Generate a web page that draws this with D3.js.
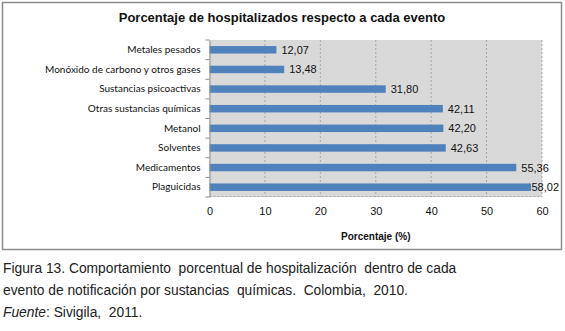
<!DOCTYPE html>
<html lang="es">
<head>
<meta charset="UTF-8">
<title>Porcentaje de hospitalizados</title>
<script src="https://d3js.org/d3.v7.min.js"></script>
<style>
    body { margin: 0; background: #fff; }
    .caption { font-family: "Liberation Sans", Arial, sans-serif; font-size: 13.8px; fill: #222; }
</style>
</head>
<body>
<svg id="chart" width="565" height="331"></svg>
<script>
    // data
    const categories = ["Metales pesados", "Monóxido de carbono y otros gases", "Sustancias psicoactivas",
        "Otras sustancias químicas", "Metanol", "Solventes", "Medicamentos", "Plaguicidas"];
    const values = [12.07, 13.48, 31.80, 42.11, 42.20, 42.63, 55.36, 58.02];
    const xTicks = [0, 10, 20, 30, 40, 50, 60];

    const svg = d3.select("#chart");

    // outer frame of the chart
    svg.append("rect")
        .attr("x", 2.5).attr("y", 2.5)
        .attr("width", 559).attr("height", 247)
        .attr("fill", "#fff")
        .attr("stroke", "#8c8c8c")
        .attr("stroke-width", 1.5);

    svg.append("text")
        .attr("x", 282).attr("y", 22)
        .attr("text-anchor", "middle")
        .style("font-family", "Liberation Sans, Arial, sans-serif")
        .style("font-size", "13px")
        .style("font-weight", "bold")
        .attr("fill", "#111")
        .text("Porcentaje de hospitalizados respecto a cada evento");

    const plot = { left: 209.5, right: 542, top: 40, bottom: 197 };

    const x = d3.scaleLinear().domain([0, 60]).range([plot.left, plot.right]);
    const y = d3.scaleBand().domain(categories)
        .range([plot.top, plot.bottom])
        .paddingInner(0.62).paddingOuter(0.31);

    // plot background
    svg.append("rect")
        .attr("x", plot.left).attr("y", plot.top)
        .attr("width", plot.right - plot.left).attr("height", plot.bottom - plot.top)
        .attr("fill", "#d9d9d9");

    // dashed gridlines
    svg.append("g").selectAll("line")
        .data(xTicks.slice(1))
        .enter().append("line")
        .attr("x1", d => x(d)).attr("x2", d => x(d))
        .attr("y1", plot.top).attr("y2", plot.bottom)
        .attr("stroke", "#a6a6a6")
        .attr("stroke-dasharray", "2,2");

    // dotted bottom line
    svg.append("line")
        .attr("x1", plot.left).attr("x2", plot.right)
        .attr("y1", plot.bottom - 0.5).attr("y2", plot.bottom - 0.5)
        .attr("stroke", "#a6a6a6")
        .attr("stroke-dasharray", "2,2");

    // bars
    svg.append("g").selectAll("rect")
        .data(values)
        .enter().append("rect")
        .attr("x", x(0))
        .attr("y", (d, i) => y(categories[i]))
        .attr("width", d => x(d) - x(0))
        .attr("height", y.bandwidth())
        .attr("fill", "#4f81bd");

    // value labels
    const labels = svg.append("g").selectAll("text")
        .data(values)
        .enter().append("text")
        .attr("y", (d, i) => y(categories[i]) + y.bandwidth() / 2)
        .attr("dy", "0.36em")
        .style("font-family", "Liberation Sans, Arial, sans-serif")
        .style("font-size", "11px")
        .attr("fill", "#111")
        .text(d => d.toFixed(2).replace(".", ","));
    labels.attr("x", function (d) {
        const w = this.getComputedTextLength();
        return Math.min(x(d) + 5, 559 - w);
    });

    // left axis
    const yAxis = svg.append("g")
        .attr("transform", `translate(${plot.left},0)`)
        .call(d3.axisLeft(y).tickSize(0).tickPadding(9));
    yAxis.select(".domain").attr("stroke", "#8c8c8c");
    yAxis.selectAll("text")
        .style("font-family", "Lato, 'Open Sans', sans-serif")
        .style("font-size", "10px")
        .attr("fill", "#111");

    // small tick marks between categories
    const bounds = d3.range(categories.length + 1).map(i => plot.top + i * y.step());
    svg.append("g").selectAll("line")
        .data(bounds)
        .enter().append("line")
        .attr("x1", plot.left - 4).attr("x2", plot.left)
        .attr("y1", d => d).attr("y2", d => d)
        .attr("stroke", "#8c8c8c");

    // bottom axis labels
    const xAxis = svg.append("g")
        .attr("transform", `translate(0,${plot.bottom})`)
        .call(d3.axisBottom(x).tickValues(xTicks).tickSize(0).tickPadding(10));
    xAxis.select(".domain").remove();
    xAxis.selectAll("text")
        .style("font-family", "Liberation Sans, Arial, sans-serif")
        .style("font-size", "11px")
        .attr("fill", "#111");

    svg.append("text")
        .attr("x", (plot.left + plot.right) / 2).attr("y", 240)
        .attr("text-anchor", "middle")
        .style("font-family", "Liberation Sans, Arial, sans-serif")
        .style("font-size", "10px")
        .style("font-weight", "bold")
        .attr("fill", "#111")
        .text("Porcentaje (%)");

    // caption under the chart
    const caption = svg.append("g").attr("class", "caption");
    caption.append("text").attr("x", 3).attr("y", 273)
        .style("white-space", "pre")
        .text("Figura 13. Comportamiento  porcentual de hospitalización  dentro de cada");
    caption.append("text").attr("x", 3).attr("y", 295)
        .style("white-space", "pre")
        .text("evento de notificación por sustancias  químicas.  Colombia,  2010.");
    const src = caption.append("text").attr("x", 3).attr("y", 317).style("white-space", "pre");
    src.append("tspan").style("font-style", "italic").text("Fuente");
    src.append("tspan").text(": Sivigila,  2011.");
</script>
</body>
</html>
